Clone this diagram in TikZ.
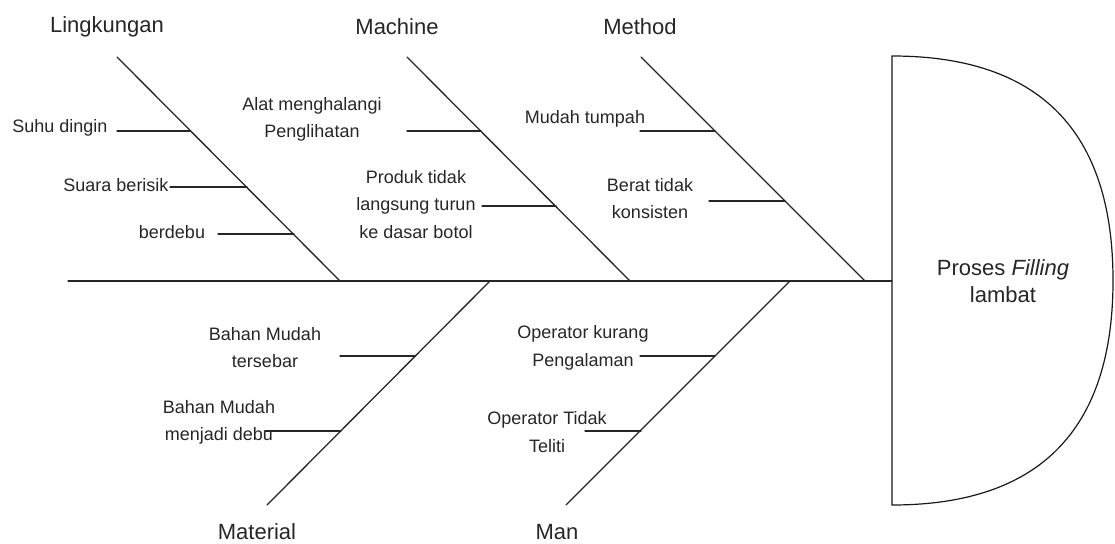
\documentclass[tikz,border=0pt]{standalone}
\usepackage{fontspec}
\setmainfont{Liberation Sans}
\begin{document}
\begin{tikzpicture}[x=1pt,y=-1pt,
  bone/.style={line width=1.3pt, draw=black!85, line cap=round},
  effect/.style={line width=1.2pt, draw=black!90, fill=white},
  cat/.style={font=\fontsize{22}{27}\selectfont, text=black!85, inner sep=0pt},
  cause/.style={font=\fontsize{18}{27.5}\selectfont, align=center, text=black!85, inner sep=0pt},
  headtext/.style={font=\fontsize{22}{27}\selectfont, align=center, text=black!85, inner sep=0pt},
]
\useasboundingbox (0,0) rectangle (1115,543);

% effect head (delay shape)
\coordinate (hTop) at (892,56);
\coordinate (hBot) at (892,505);
\coordinate (hMid) at (892,281);
\draw[effect] (hTop) .. controls (1039.3,56) and (1113,130.8) .. (1113,280.5)
  .. controls (1113,430.2) and (1039.3,505) .. (hBot) -- cycle;
\node[headtext] (effect) at (1003,281.5) {Proses \textit{Filling}\\lambat};

% spine
\coordinate (tail) at (68,281);
\draw[bone] (tail) -- (hMid);

% main bones
\coordinate (lkTop) at (117,57);  \coordinate (lkEnd) at (340,281);
\coordinate (mcTop) at (407,57);  \coordinate (mcEnd) at (630,281);
\coordinate (meTop) at (641,57);  \coordinate (meEnd) at (865,281);
\coordinate (maStart) at (490,281); \coordinate (maBot) at (267,505);
\coordinate (mnStart) at (790,281); \coordinate (mnBot) at (566,505);
\draw[bone] (lkTop) -- (lkEnd);
\draw[bone] (mcTop) -- (mcEnd);
\draw[bone] (meTop) -- (meEnd);
\draw[bone] (maStart) -- (maBot);
\draw[bone] (mnStart) -- (mnBot);

% category labels
\node[cat] (lingkungan) at (107,27) {Lingkungan};
\node[cat] (machine) at (397,27) {Machine};
\node[cat] (method) at (640,27) {Method};
\node[cat] (material) at (257,532) {Material};
\node[cat] (man) at (557,532) {Man};

% Lingkungan causes
\node[cause] (suhu) at (60,128) {Suhu dingin};
\node[cause] (suara) at (116,185) {Suara berisik};
\node[cause] (debu) at (172,232) {berdebu};
\coordinate (r1a) at (117,131); \coordinate (r1b) at (190,131);
\coordinate (r2a) at (170,187); \coordinate (r2b) at (247,187);
\coordinate (r3a) at (218,234); \coordinate (r3b) at (294,234);
\draw[bone] (r1a) -- (r1b);
\draw[bone] (r2a) -- (r2b);
\draw[bone] (r3a) -- (r3b);

% Machine causes
\node[cause] (alat) at (312,119.5) {Alat menghalangi\\Penglihatan};
\node[cause] (produk) at (416,204.5) {Produk tidak\\langsung turun\\ke dasar botol};
\coordinate (r4a) at (407,131); \coordinate (r4b) at (481,131);
\coordinate (r5a) at (482,206); \coordinate (r5b) at (556,206);
\draw[bone] (r4a) -- (r4b);
\draw[bone] (r5a) -- (r5b);

% Method causes
\node[cause] (tumpah) at (585,119) {Mudah tumpah};
\node[cause] (berat) at (650,198.5) {Berat tidak\\konsisten};
\coordinate (r6a) at (640,131); \coordinate (r6b) at (715,131);
\coordinate (r7a) at (709,201); \coordinate (r7b) at (785,201);
\draw[bone] (r6a) -- (r6b);
\draw[bone] (r7a) -- (r7b);

% Material causes
\node[cause] (tersebar) at (265,347.5) {Bahan Mudah\\tersebar};
\node[cause] (menjadi) at (219,422.5) {Bahan Mudah\\menjadi debu};
\coordinate (r8a) at (340,356); \coordinate (r8b) at (415,356);
\coordinate (r9a) at (265,431); \coordinate (r9b) at (341,431);
\draw[bone] (r8a) -- (r8b);
\draw[bone] (r9a) -- (r9b);

% Man causes
\node[cause] (kurang) at (583,348) {Operator kurang\\Pengalaman};
\node[cause] (teliti) at (547,432) {Operator Tidak\\Teliti};
\coordinate (r10a) at (640,356); \coordinate (r10b) at (715,356);
\coordinate (r11a) at (585,431); \coordinate (r11b) at (641,431);
\draw[bone] (r10a) -- (r10b);
\draw[bone] (r11a) -- (r11b);
\end{tikzpicture}
\end{document}
